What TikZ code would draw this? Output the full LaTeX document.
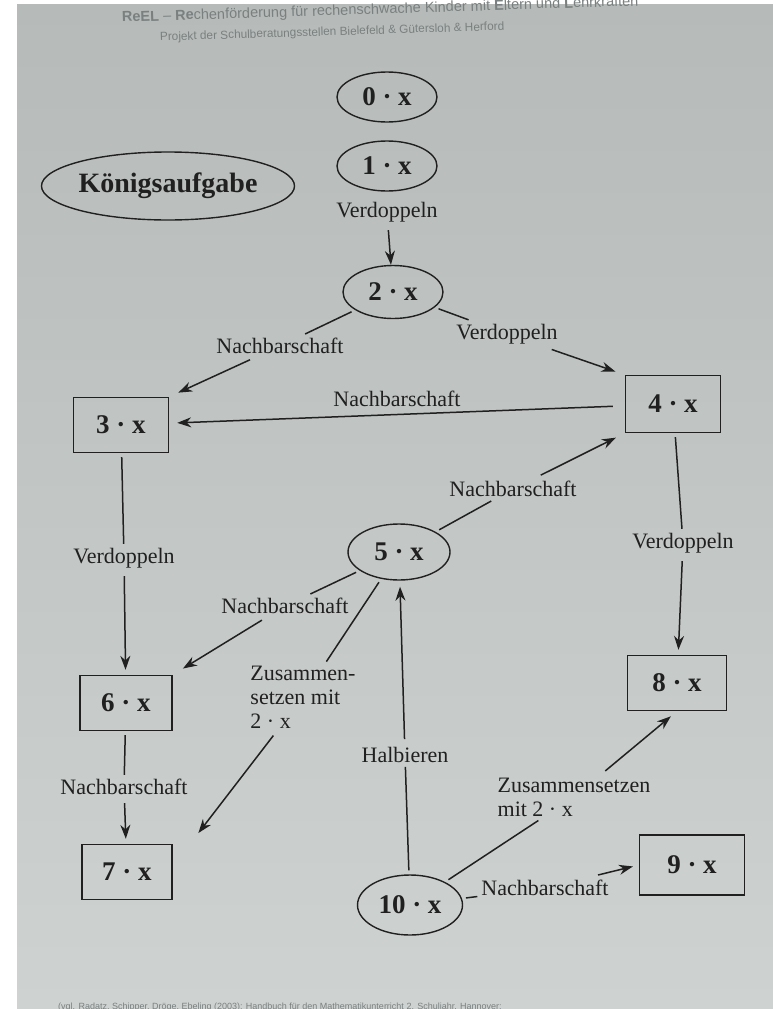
\documentclass[tikz,border=0pt]{standalone}
\usepackage{fontspec}
\setmainfont{Liberation Serif}
\setsansfont{Liberation Sans}
\usetikzlibrary{arrows.meta,shapes.geometric}
\definecolor{ink}{RGB}{32,32,32}
\definecolor{paperdark}{RGB}{182,187,185}
\definecolor{paperlight}{RGB}{222,225,223}
\definecolor{papermid}{RGB}{206,210,208}
\definecolor{faded}{RGB}{122,128,128}
\tikzset{
  >={Stealth[length=14pt,width=10pt]},
  oval/.style ={ellipse, draw=ink, line width=1.4pt, minimum width=100pt, minimum height=50pt, inner sep=0pt, text=ink, font=\fontsize{27}{30}\selectfont\bfseries},
  box/.style  ={rectangle, draw=ink, line width=1.4pt, minimum width=95pt, minimum height=55pt, inner sep=0pt, text=ink, font=\fontsize{27}{30}\selectfont\bfseries},
  lbl/.style  ={inner sep=4pt, text=ink, font=\fontsize{22}{24}\selectfont},
  conn/.style ={draw=ink, line width=1.5pt, shorten <=4pt},
  head/.style ={inner sep=0pt, text=faded, anchor=base west}
}
\begin{document}
\begin{tikzpicture}[x=1pt,y=-1pt]
\useasboundingbox (0,0) rectangle (773,1009);
% paper
\shade[top color=paperdark, middle color=paperlight, bottom color=papermid] (17,4) rectangle (773,1009);
% header and footer
\node[head, rotate=1.8, font=\sffamily\fontsize{14.5}{16}\selectfont] (hd1) at (122,22)
  {\textbf{ReEL} – \textbf{Re}chenförderung für rechenschwache Kinder mit \textbf{E}ltern und \textbf{L}ehrkräften};
\node[head, rotate=1.8, font=\sffamily\fontsize{11.8}{13}\selectfont] (hd2) at (160,41)
  {Projekt der Schulberatungsstellen Bielefeld \& Gütersloh \& Herford};
\node[head, font=\sffamily\fontsize{9}{10}\selectfont] (ft) at (58,1009)
  {(vgl. Radatz, Schipper, Dröge, Ebeling (2003): Handbuch für den Mathematikunterricht 2. Schuljahr. Hannover:};

% multiples
\node[oval] (n0) at (387,97) {0 · x};
\node[oval] (n1) at (387,166) {1 · x};
\node[oval, minimum width=230pt, minimum height=68pt, font=\fontsize{28}{30}\selectfont\bfseries] (koenig) at (168,186) {Königsaufgabe};
\node[oval, minimum height=53pt] (n2) at (393,292) {2 · x};
\node[box] (n3) at (121,425) {3 · x};
\node[box, minimum height=57pt] (n4) at (673,404) {4 · x};
\node[oval, minimum width=102pt, minimum height=56pt] (n5) at (399,552) {5 · x};
\node[box, minimum width=92pt] (n6) at (126,703) {6 · x};
\node[box, minimum width=90pt] (n7) at (127,872) {7 · x};
\node[box, minimum width=99pt] (n8) at (677,683) {8 · x};
\node[box, minimum width=105pt, minimum height=60pt] (n9) at (692,865) {9 · x};
\node[oval, minimum width=105pt, minimum height=60pt] (n10) at (410,905) {10 · x};

% labels
\node[lbl] (l12) at (387,212) {Verdoppeln};
\node[lbl] (l23) at (280,346) {Nachbarschaft};
\node[lbl] (l24) at (507,334) {Verdoppeln};
\node[lbl] (l36) at (124,558) {Verdoppeln};
\node[lbl] (l48) at (683,543) {Verdoppeln};
\node[lbl] (l54) at (513,489) {Nachbarschaft};
\node[lbl] (l56) at (285,606) {Nachbarschaft};
\node[lbl, align=left] (l57) at (303,697) {Zusammen-\\setzen mit\\2 · x};
\node[lbl] (l67) at (124,787) {Nachbarschaft};
\node[lbl] (l105) at (405,755) {Halbieren};
\node[lbl, align=left] (l108) at (574,797) {Zusammensetzen\\mit 2 · x};
\node[lbl] (l109) at (545,888) {Nachbarschaft};

% connectors
\draw[conn,->] (l12) -- (n2);
\draw[conn] (n2) -- (l23);
\draw[conn,->,shorten >=10pt] (l23) -- (n3.north east);
\draw[conn] (n2) -- (l24);
\draw[conn,->,shorten >=10pt] (l24) -- (n4.north west);
\draw[conn,->,shorten <=12pt,shorten >=8pt] (n4) -- node[lbl, above=3pt] (l43) {Nachbarschaft} (n3);
\draw[conn] (n3) -- (l36);
\draw[conn,->,shorten >=5pt] (l36) -- (n6);
\draw[conn] (n4) -- (l48);
\draw[conn,->,shorten >=5pt] (l48) -- (n8);
\draw[conn] (n5) -- (l54);
\draw[conn,->,shorten >=10pt] (l54) -- (n4.south west);
\draw[conn] (n5) -- (l56);
\draw[conn,->,shorten >=12pt] (l56) -- (n6.north east);
\draw[conn] (n5) -- (l57);
\draw[conn,->,shorten >=6pt] (l57) -- ([shift={(22,-6)}]n7.north east);
\draw[conn] (n6) -- (l67);
\draw[conn,->,shorten >=5pt] (l67) -- (n7);
\draw[conn] (n10) -- (l105);
\draw[conn,->,shorten >=6pt] (l105) -- (n5);
\draw[conn] (n10) -- (l108);
\draw[conn,->,shorten >=8pt] (l108) -- (n8.south);
\draw[conn] (n10) -- (l109);
\draw[conn,->,shorten >=6pt] (l109) -- (n9.west);
\end{tikzpicture}
\end{document}
